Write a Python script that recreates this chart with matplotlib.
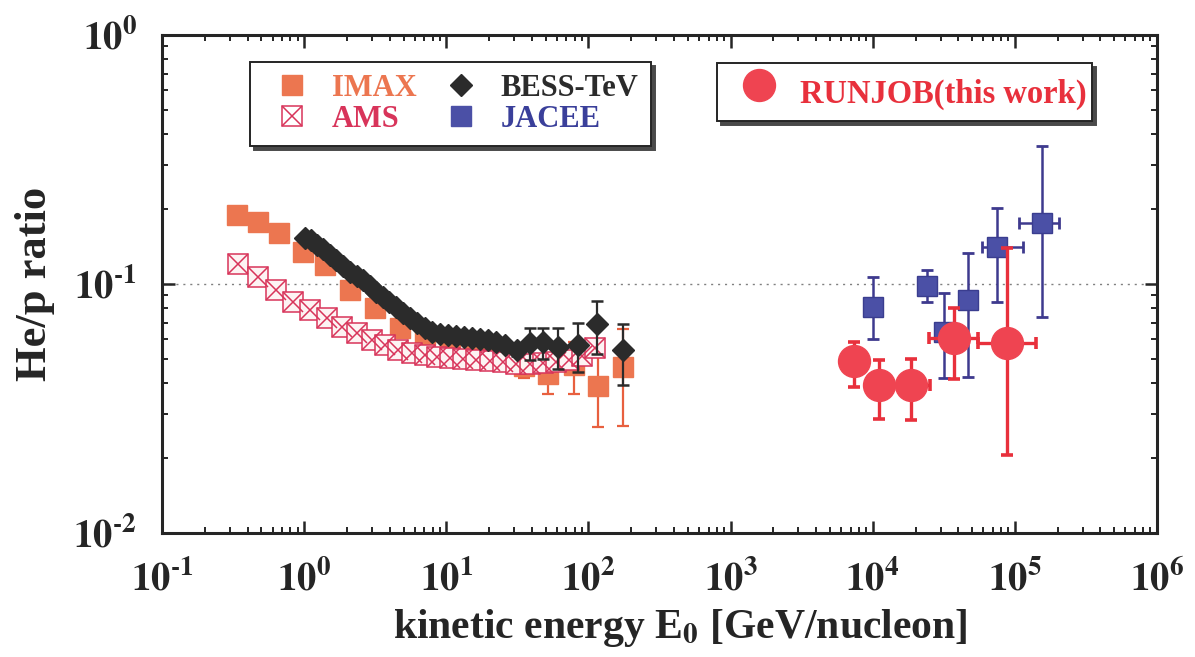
import numpy as np
import matplotlib
matplotlib.use("Agg")
import matplotlib.pyplot as plt
from matplotlib import ticker
from matplotlib.lines import Line2D
from matplotlib.font_manager import FontProperties

plt.rcParams["mathtext.fontset"] = "stix"
plt.rcParams["font.family"] = ["Liberation Serif", "DejaVu Serif"]

# --- He/p ratio vs kinetic energy [GeV/nucleon] ---
imax_E = [0.337, 0.474, 0.665, 0.98, 1.40, 2.10, 3.16, 4.73, 7.1, 10.6,
          16.0, 24.0, 35.0, 52.0, 79.0, 117.0, 175.0]
imax_R = [0.189, 0.177, 0.160, 0.134, 0.119, 0.0946, 0.0802, 0.0666, 0.0624, 0.0569,
          0.0525, 0.0500, 0.0470, 0.0434, 0.0473, 0.0389, 0.0464]
imax_err = [0.004, 0.004, 0.004, 0.004, 0.004, 0.004, 0.004, 0.004, 0.004, 0.004,
            0.004, 0.004, 0.005, 0.0072, 0.011, 0.0122, 0.0195]

ams_E = [0.343, 0.474, 0.634, 0.835, 1.10, 1.45, 1.85, 2.36, 3.01, 3.71,
         4.58, 5.75, 7.10, 8.62, 10.6, 13.1, 16.2, 20.3, 25.1, 31.0,
         38.9, 48.0, 59.3, 73.1, 90.3, 111.0]
ams_R = [0.120, 0.107, 0.0946, 0.0847, 0.0787, 0.0730, 0.0672, 0.0636, 0.0596, 0.0569,
         0.0543, 0.0528, 0.0519, 0.0509, 0.0504, 0.0500, 0.0495, 0.0490, 0.0486, 0.0477,
         0.0477, 0.0481, 0.0486, 0.0495, 0.0513, 0.0553]

bess_E = [1.01, 1.12, 1.23, 1.36, 1.52, 1.68, 1.88, 2.10, 2.36, 2.60,
          2.91, 3.21, 3.59, 3.96, 4.43, 4.97, 5.56, 6.23, 7.10, 7.94,
          9.04, 10.3, 11.7, 13.3, 15.2, 17.3, 19.7, 22.4, 25.9, 31.5,
          38.9, 48.0, 61.2, 84.7, 115.0, 175.0]
bess_R = [0.153, 0.150, 0.143, 0.138, 0.131, 0.125, 0.118, 0.112, 0.108, 0.104,
          0.0985, 0.0929, 0.0887, 0.0847, 0.0809, 0.0765, 0.0730, 0.0697, 0.0666, 0.0642,
          0.0630, 0.0624, 0.0618, 0.0612, 0.0607, 0.0601, 0.0596, 0.0585, 0.0569, 0.0543,
          0.0580, 0.0584, 0.0560, 0.0569, 0.0690, 0.0543]
bess_err = [0.0] * 29 + [0.003, 0.0086, 0.0082, 0.0106, 0.0126, 0.0165, 0.015]

jacee_E = [1.0e4, 2.42e4, 3.18e4, 4.7e4, 7.5e4, 1.56e5]
jacee_R = [0.0809, 0.0982, 0.0641, 0.0863, 0.141, 0.176]
jacee_lo = [0.0601, 0.0847, 0.0419, 0.0423, 0.0847, 0.0737]
jacee_hi = [0.1067, 0.1139, 0.092, 0.133, 0.202, 0.358]
jacee_Elo = [1.0e4, 2.42e4, 3.18e4, 4.7e4, 5.9e4, 1.07e5]
jacee_Ehi = [1.0e4, 2.42e4, 3.18e4, 4.7e4, 1.15e5, 2.05e5]

runjob_E = [7.4e3, 1.11e4, 1.87e4, 3.74e4, 8.8e4]
runjob_R = [0.0491, 0.0393, 0.0393, 0.0607, 0.058]
runjob_lo = [0.0386, 0.0287, 0.0285, 0.0415, 0.0206]
runjob_hi = [0.0585, 0.0495, 0.050, 0.080, 0.1395]
runjob_Elo = [6.2e3, 9.5e3, 1.4e4, 2.5e4, 5.5e4]
runjob_Ehi = [8.8e3, 1.3e4, 2.54e4, 5.5e4, 1.41e5]

x_decades = [0.1, 1, 10, 100, 1e3, 1e4, 1e5, 1e6]
y_decades = [0.01, 0.1, 1.0]

C_IMAX = "#ec7650"
C_AMS = "#d8345a"
C_BESS = "#2b2b2b"
C_JACEE = "#4b50a6"
C_RUN = "#ef4451"
INK = "#252525"


def asym(vals, lo, hi):
    v = np.asarray(vals)
    return [v - np.asarray(lo), np.asarray(hi) - v]


fig = plt.figure(figsize=(11.95, 6.57), dpi=100)
ax = fig.add_axes([0.1356, 0.1887, 0.8326, 0.758])
ax.set_xscale("log")
ax.set_yscale("log")
ax.set_xlim(x_decades[0], x_decades[-1])
ax.set_ylim(y_decades[0], y_decades[-1])

ax.axhline(0.1, color="#808080", lw=1.0, ls=(0, (1.5, 3.5)), zorder=1)

# IMAX
ax.errorbar(imax_E, imax_R, yerr=imax_err, fmt="s", ms=14.5, mfc=C_IMAX, mec=C_IMAX,
            ecolor="#e8603f", elinewidth=1.6, capsize=4, capthick=1.6, zorder=2)
# AMS: open box with a cross
ax.plot(ams_E, ams_R, "s", ls="none", ms=14, mfc="#fdf3f3", mec=C_AMS, mew=1.1, zorder=3)
ax.plot(ams_E, ams_R, "x", ls="none", ms=14, mec=C_AMS, mew=1.1, zorder=3)
# BESS-TeV
ax.errorbar(bess_E, bess_R, yerr=bess_err, fmt="D", ms=11.5, mfc=C_BESS, mec=C_BESS,
            ecolor=C_BESS, elinewidth=1.6, capsize=4, capthick=1.8, zorder=4)
# JACEE
ax.errorbar(jacee_E, jacee_R, yerr=asym(jacee_R, jacee_lo, jacee_hi),
            xerr=asym(jacee_E, jacee_Elo, jacee_Ehi), fmt="s", ms=14.5,
            mfc=C_JACEE, mec="#3a3d8f", ecolor="#3e3a8e", elinewidth=1.8,
            capsize=4, capthick=2, zorder=5)
# RUNJOB
ax.errorbar(runjob_E, runjob_R, yerr=asym(runjob_R, runjob_lo, runjob_hi),
            xerr=asym(runjob_E, runjob_Elo, runjob_Ehi), fmt="o", ms=23,
            mfc=C_RUN, mec=C_RUN, ecolor="#e8303c", elinewidth=2.4,
            capsize=4.5, capthick=2.6, zorder=6)

# axes styling
for sp in ax.spines.values():
    sp.set_linewidth(2.2)
    sp.set_color(INK)
ax.xaxis.set_major_locator(ticker.FixedLocator(x_decades))
ax.yaxis.set_major_locator(ticker.FixedLocator(y_decades))
ax.xaxis.set_minor_locator(ticker.LogLocator(base=10, subs=np.arange(2, 10), numticks=12))
ax.yaxis.set_minor_locator(ticker.LogLocator(base=10, subs=np.arange(2, 10), numticks=12))
ax.xaxis.set_minor_formatter(ticker.NullFormatter())
ax.yaxis.set_minor_formatter(ticker.NullFormatter())


def pow10(v, pos):
    e = int(round(np.log10(v)))
    s = ("\u2010%d" % -e) if e < 0 else "%d" % e
    return r"$\mathbf{10^{%s}}$" % s


ax.xaxis.set_major_formatter(ticker.FuncFormatter(pow10))
ax.yaxis.set_major_formatter(ticker.FuncFormatter(pow10))
ax.tick_params(which="both", direction="in", top=True, right=True, colors=INK)
ax.tick_params(which="major", length=9, width=1.8, labelsize=28)
ax.tick_params(which="minor", length=4.5, width=1.4)
ax.tick_params(axis="x", which="major", pad=20)
ax.tick_params(axis="y", which="major", pad=18)

ax.set_xlabel(r"kinetic energy E$_{\mathbf{0}}$ [GeV/nucleon]", fontsize=30,
              fontweight="bold", color=INK)
ax.set_ylabel("He/p ratio", fontsize=32, fontweight="bold", color=INK)
ax.xaxis.set_label_coords(0.521, -0.148)
ax.yaxis.set_label_coords(-0.108, 0.50)

# legends
h_imax = Line2D([], [], ls="none", marker="s", ms=14.5, mfc=C_IMAX, mec=C_IMAX)
h_ams = (Line2D([], [], ls="none", marker="s", ms=14, mfc="white", mec=C_AMS, mew=1.1),
         Line2D([], [], ls="none", marker="x", ms=14, mec=C_AMS, mew=1.1))
h_bess = Line2D([], [], ls="none", marker="D", ms=11.5, mfc=C_BESS, mec=C_BESS)
h_jacee = Line2D([], [], ls="none", marker="s", ms=14.5, mfc=C_JACEE, mec=C_JACEE)
h_run = Line2D([], [], ls="none", marker="o", ms=23, mfc=C_RUN, mec=C_RUN)

shadow = {"color": "#4a4a4a", "alpha": 1.0, "ox": 3, "oy": -3}
common = dict(loc="upper left", borderaxespad=0, frameon=True, fancybox=False,
              framealpha=1, facecolor="white", edgecolor=INK, shadow=shadow)

leg1 = ax.legend([h_imax, h_ams, h_bess, h_jacee], ["IMAX", "AMS", "BESS-TeV", "JACEE"],
                 ncol=2, bbox_to_anchor=(0.088, 0.946), columnspacing=0.45,
                 labelspacing=0.05, borderpad=0.4, handlelength=2.0, handletextpad=0.3,
                 prop=FontProperties(family="Liberation Serif", weight="bold", size=22),
                 **common)
for t, c in zip(leg1.get_texts(), [C_IMAX, C_AMS, C_BESS, "#3a3f9a"]):
    t.set_color(c)
leg1.get_frame().set_linewidth(1.4)
ax.add_artist(leg1)

leg2 = ax.legend([h_run], ["RUNJOB(this work)"], bbox_to_anchor=(0.558, 0.944),
                 borderpad=0.15, handlelength=2.28, handleheight=1.9, handletextpad=0.12,
                 prop=FontProperties(family="Liberation Serif", weight="bold", size=23.5),
                 **common)
leg2.get_texts()[0].set_color("#e8303c")
leg2.get_frame().set_linewidth(1.4)

fig.savefig("out.png", dpi=100, facecolor="white")
